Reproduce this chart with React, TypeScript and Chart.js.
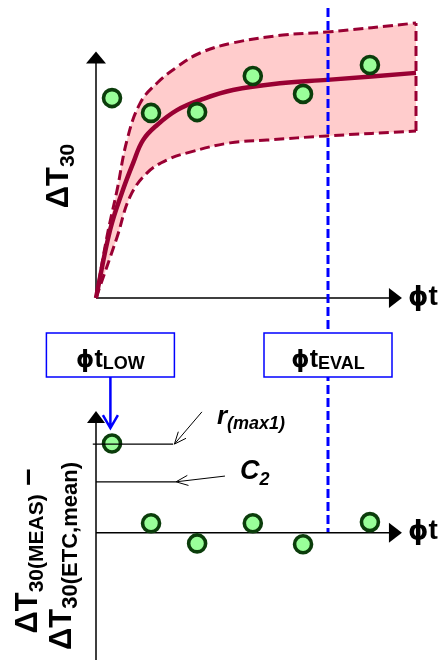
import React, { useEffect, useRef } from "react";
import { Chart, registerables } from "chart.js";
Chart.register(...registerables);

// ---- data (diagram units) ----
const measX = [0.5, 1.72, 3.16, 4.9, 6.47, 8.56];
const measY = [7.14, 6.61, 6.64, 7.93, 7.29, 8.32];
const meanX = [0, 0.44, 0.84, 1.16, 1.47, 1.91, 2.53, 3.25, 4.28, 5.84, 7.22, 10];
const meanY = [0, 2.43, 3.86, 4.82, 5.64, 6.18, 6.71, 7.07, 7.43, 7.68, 7.79, 8.04];
const upperX = [0, 0.34, 0.66, 0.97, 1.38, 1.91, 2.53, 3.25, 4.28, 5.84, 7.22, 10];
const upperY = [0, 2.18, 3.86, 5.64, 6.96, 7.68, 8.25, 8.75, 9.11, 9.39, 9.5, 9.82];
const lowerX = [0, 0.66, 1.06, 1.59, 2.22, 2.94, 4.19, 5.34, 7.22, 10];
const lowerY = [0, 2.18, 3.61, 4.46, 4.93, 5.21, 5.54, 5.64, 5.79, 5.96];
const residY = [3.1, 0.33, -0.37, 0.33, -0.4, 0.37];
const rMax1 = 3.08;
const c2 = 1.77;
const phiTLow = 0.45;
const phiTEval = 7.25;

// ---- text ----
const PHI = "\u03d5";
const T = "t";
const LOW_SUB = "LOW";
const EVAL_SUB = "EVAL";
const TOP_YLABEL = ["\u0394T", "30"];
const BOT_YLABEL_1 = ["\u0394T", "30(MEAS)", " \u2013"];
const BOT_YLABEL_2 = ["\u0394T", "30(ETC,mean)"];

// ---- styles ----
const FONT = '"Liberation Sans", Arial, "DejaVu Sans", sans-serif';
const PHI_FONT = '"DejaVu Sans", sans-serif';
const MAROON = "#990033";
const BAND = "#ffcccc";
const PT_FILL = "#99ff99";
const PT_EDGE = "#0b3d0b";
const BLUE = "#0000ff";

type Part = { t: string; size: number; dy?: number; italic?: boolean; fam?: string };
const fnt = (p: Part) => `${p.italic ? "italic " : ""}bold ${p.size}px ${p.fam || FONT}`;

function drawParts(ctx: CanvasRenderingContext2D, parts: Part[], x: number, y: number, align: "left" | "center") {
  let w = 0;
  for (const p of parts) { ctx.font = fnt(p); w += ctx.measureText(p.t).width; }
  let cx = align === "center" ? x - w / 2 : x;
  ctx.textAlign = "left";
  ctx.textBaseline = "alphabetic";
  ctx.fillStyle = "#000";
  for (const p of parts) {
    ctx.font = fnt(p);
    ctx.fillText(p.t, cx, y + (p.dy || 0));
    cx += ctx.measureText(p.t).width;
  }
}
function drawRotated(ctx: CanvasRenderingContext2D, parts: Part[], bx: number, cy: number) {
  ctx.save();
  ctx.translate(bx, cy);
  ctx.rotate(-Math.PI / 2);
  drawParts(ctx, parts, 0, 0, "center");
  ctx.restore();
}
function solidHead(ctx: CanvasRenderingContext2D, tx: number, ty: number, dx: number, dy: number, len: number, half: number) {
  const bx = tx - dx * len, by = ty - dy * len;
  const px = -dy, py = dx;
  ctx.beginPath();
  ctx.moveTo(tx, ty);
  ctx.lineTo(bx + px * half, by + py * half);
  ctx.lineTo(bx - px * half, by - py * half);
  ctx.closePath();
  ctx.fill();
}
function openArrow(ctx: CanvasRenderingContext2D, x1: number, y1: number, x2: number, y2: number, len: number, ang: number) {
  ctx.beginPath();
  ctx.moveTo(x1, y1);
  ctx.lineTo(x2, y2);
  const a = Math.atan2(y2 - y1, x2 - x1);
  ctx.moveTo(x2 - len * Math.cos(a - ang), y2 - len * Math.sin(a - ang));
  ctx.lineTo(x2, y2);
  ctx.lineTo(x2 - len * Math.cos(a + ang), y2 - len * Math.sin(a + ang));
  ctx.stroke();
}
const phiT = (size: number): Part[] => [
  { t: PHI, size: size * 0.92, fam: PHI_FONT },
  { t: T, size },
];

const pts = (xs: number[], ys: number[]) => xs.map((x, i) => ({ x, y: ys[i] }));

const TOP_AXIS_Y_END = 8.8;
const AXIS_X_END = 9.56;
const BOT_AXIS_Y_END = 4.23;
const EVAL_TOP = 10.36;

const topPlugin = {
  id: "topDeco",
  beforeDatasetsDraw(chart: any) {
    const ctx = chart.ctx as CanvasRenderingContext2D;
    const X = (v: number) => chart.scales.x.getPixelForValue(v);
    const Y = (v: number) => chart.scales.y.getPixelForValue(v);
    ctx.save();
    ctx.strokeStyle = "#000";
    ctx.fillStyle = "#000";
    ctx.lineWidth = 1.5;
    ctx.beginPath();
    ctx.moveTo(X(0), Y(0));
    ctx.lineTo(X(0), Y(TOP_AXIS_Y_END) + 8);
    ctx.moveTo(X(0), Y(0));
    ctx.lineTo(X(AXIS_X_END) - 8, Y(0));
    ctx.stroke();
    solidHead(ctx, X(0), Y(TOP_AXIS_Y_END), 0, -1, 12, 10);
    solidHead(ctx, X(AXIS_X_END), Y(0), 1, 0, 13, 10);
    ctx.restore();
  },
  afterDatasetsDraw(chart: any) {
    const ctx = chart.ctx as CanvasRenderingContext2D;
    const X = (v: number) => chart.scales.x.getPixelForValue(v);
    const Y = (v: number) => chart.scales.y.getPixelForValue(v);
    ctx.save();
    ctx.strokeStyle = BLUE;
    ctx.lineWidth = 3;
    ctx.setLineDash([9, 4]);
    ctx.beginPath();
    ctx.moveTo(X(phiTEval), Y(EVAL_TOP));
    ctx.lineTo(X(phiTEval), chart.height);
    ctx.stroke();
    ctx.setLineDash([]);
    drawParts(ctx, phiT(28), X(AXIS_X_END) + 6, Y(0) + 7, "left");
    drawRotated(ctx, [{ t: TOP_YLABEL[0], size: 31 }, { t: TOP_YLABEL[1], size: 21, dy: 6 }], 68, 176);
    ctx.restore();
  },
};

const botPlugin = {
  id: "botDeco",
  beforeDatasetsDraw(chart: any) {
    const ctx = chart.ctx as CanvasRenderingContext2D;
    const X = (v: number) => chart.scales.x.getPixelForValue(v);
    const Y = (v: number) => chart.scales.y.getPixelForValue(v);
    ctx.save();
    ctx.strokeStyle = BLUE;
    ctx.lineWidth = 3;
    ctx.setLineDash([9, 4]);
    ctx.beginPath();
    ctx.moveTo(X(phiTEval), 0);
    ctx.lineTo(X(phiTEval), Y(0));
    ctx.stroke();
    ctx.setLineDash([]);
    ctx.strokeStyle = "#000";
    ctx.fillStyle = "#000";
    ctx.lineWidth = 1.5;
    ctx.beginPath();
    ctx.moveTo(X(0), chart.height);
    ctx.lineTo(X(0), Y(BOT_AXIS_Y_END) + 8);
    ctx.moveTo(X(0), Y(0));
    ctx.lineTo(X(AXIS_X_END) - 8, Y(0));
    ctx.stroke();
    solidHead(ctx, X(0), Y(BOT_AXIS_Y_END), 0, -1, 12, 9);
    solidHead(ctx, X(AXIS_X_END), Y(0), 1, 0, 13, 10);
    ctx.restore();
  },
  afterDatasetsDraw(chart: any) {
    const ctx = chart.ctx as CanvasRenderingContext2D;
    const X = (v: number) => chart.scales.x.getPixelForValue(v);
    const Y = (v: number) => chart.scales.y.getPixelForValue(v);
    ctx.save();
    const boxW = 128, boxTop = 13, boxH = 44;
    const box = (cx: number, sub: string) => {
      ctx.fillStyle = "#fff";
      ctx.fillRect(cx - boxW / 2, boxTop, boxW, boxH);
      ctx.strokeStyle = BLUE;
      ctx.lineWidth = 1.5;
      ctx.strokeRect(cx - boxW / 2, boxTop, boxW, boxH);
      drawParts(ctx, [...phiT(25), { t: sub, size: 18, dy: 2 }], cx, boxTop + 34, "center");
    };
    box(X(phiTLow), LOW_SUB);
    box(X(phiTEval), EVAL_SUB);
    ctx.strokeStyle = BLUE;
    ctx.lineWidth = 2.5;
    const ax = X(phiTLow);
    const tipY = Y(BOT_AXIS_Y_END) + 17;
    ctx.beginPath();
    ctx.moveTo(ax, boxTop + boxH);
    ctx.lineTo(ax, tipY);
    ctx.moveTo(ax - 7.5, tipY - 13);
    ctx.lineTo(ax, tipY);
    ctx.lineTo(ax + 7.5, tipY - 13);
    ctx.stroke();
    ctx.strokeStyle = "#000";
    ctx.lineWidth = 1;
    openArrow(ctx, X(3.31), Y(4.2), X(2.45), Y(rMax1), 13, 0.4);
    openArrow(ctx, X(4.03), Y(1.97), X(2.5), Y(c2), 13, 0.4);
    drawParts(ctx, [{ t: "r", size: 26, italic: true }, { t: "(max1)", size: 18, italic: true, dy: 5 }], X(3.78), Y(rMax1) - 20, "left");
    drawParts(ctx, [{ t: "C", size: 27, italic: true }, { t: "2", size: 18, italic: true, dy: 6 }], X(4.5), Y(c2) - 3, "left");
    drawParts(ctx, phiT(28), X(AXIS_X_END) + 6, Y(0) + 6, "left");
    drawRotated(ctx, [
      { t: BOT_YLABEL_1[0], size: 31 },
      { t: BOT_YLABEL_1[1], size: 21, dy: 6 },
      { t: BOT_YLABEL_1[2], size: 31 },
    ], 37, 231);
    drawRotated(ctx, [
      { t: BOT_YLABEL_2[0], size: 31 },
      { t: BOT_YLABEL_2[1], size: 22, dy: 6 },
    ], 71, 236);
    ctx.restore();
  },
};

const pointDs = (ys: number[]) => ({
  data: pts(measX, ys),
  showLine: false,
  pointRadius: 8.5,
  pointBorderWidth: 3.6,
  pointBackgroundColor: PT_FILL,
  pointBorderColor: PT_EDGE,
  clip: false,
});

const baseOptions = (padding: any, yMin: number, yMax: number) => ({
  responsive: false,
  animation: false,
  events: [],
  layout: { padding },
  scales: {
    x: { type: "linear", min: 0, max: 10, display: false },
    y: { type: "linear", min: yMin, max: yMax, display: false },
  },
  plugins: {
    legend: { display: false },
    tooltip: { enabled: false },
    filler: { drawTime: "beforeDatasetsDraw" },
  },
});

export default function App() {
  const topRef = useRef<HTMLCanvasElement>(null);
  const botRef = useRef<HTMLCanvasElement>(null);
  useEffect(() => {
    const dashed = { borderColor: MAROON, borderWidth: 3, borderDash: [10, 5], pointRadius: 0, clip: false };
    const top = new Chart(topRef.current as HTMLCanvasElement, {
      type: "line",
      data: {
        datasets: [
          pointDs(measY),
          { data: pts(meanX, meanY), borderColor: MAROON, borderWidth: 4.5, pointRadius: 0, tension: 0.4, fill: false, clip: false },
          { data: pts(upperX, upperY), ...dashed, tension: 0.4, fill: 3, backgroundColor: BAND },
          { data: pts(lowerX, lowerY), ...dashed, tension: 0.4, fill: false },
          { data: [{ x: 10, y: lowerY[lowerY.length - 1] }, { x: 10, y: upperY[upperY.length - 1] }], ...dashed, tension: 0, fill: false },
        ],
      },
      options: baseOptions({ left: 96, right: 24, top: 18, bottom: 22 }, 0, 10) as any,
      plugins: [topPlugin],
    } as any);
    const bot = new Chart(botRef.current as HTMLCanvasElement, {
      type: "line",
      data: {
        datasets: [
          { data: [{ x: -0.1, y: rMax1 }, { x: 2.41, y: rMax1 }], borderColor: "#000", borderWidth: 1.2, pointRadius: 0, fill: false, clip: false },
          { data: [{ x: 0, y: c2 }, { x: 2.5, y: c2 }], borderColor: "#000", borderWidth: 1.2, pointRadius: 0, fill: false, clip: false },
          pointDs(residY),
        ],
      },
      options: baseOptions({ left: 96, right: 24, top: 89, bottom: 2 }, -4, 4.3) as any,
      plugins: [botPlugin],
    } as any);
    return () => {
      top.destroy();
      bot.destroy();
    };
  }, []);
  return (
    <div style={{ position: "absolute", left: 0, top: 0, width: 440, height: 660, background: "#fff" }}>
      <canvas ref={topRef} width={440} height={320} style={{ position: "absolute", left: 0, top: 0 }} />
      <canvas ref={botRef} width={440} height={340} style={{ position: "absolute", left: 0, top: 320 }} />
    </div>
  );
}
